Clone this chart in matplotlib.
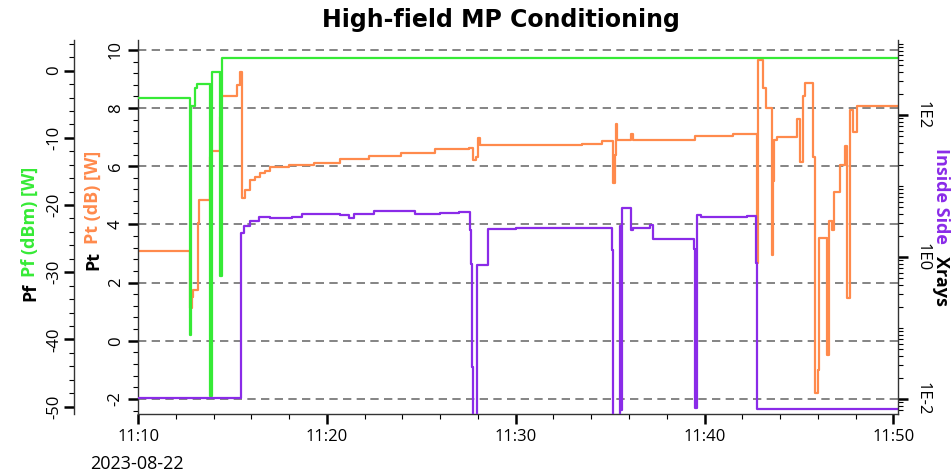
import numpy as np
import pandas as pd
import matplotlib
matplotlib.use("Agg")
import matplotlib.pyplot as plt
import matplotlib.dates as mdates
import matplotlib.ticker as mticker

DAY = "2023-08-22"
TITLE = "High-field MP Conditioning"

# Pf (dBm), outer left axis
pf_times = ["11:09:50", "11:12:45", "11:12:48", "11:13:01", "11:13:07", "11:13:49",
            "11:13:56", "11:14:20", "11:14:28", "11:50:20"]
pf_values = [-4.0, -39.3, -5.3, -2.6, -2.0, -48.4, -0.25, -30.6, 1.9, 1.9]

# Pt (dB), inner left axis
pt_times = ["11:09:50", "11:12:45", "11:12:50", "11:12:55", "11:13:10", "11:13:14",
            "11:13:49", "11:13:53", "11:14:20", "11:14:24", "11:15:14", "11:15:24",
            "11:15:29", "11:15:40", "11:15:56", "11:16:12", "11:16:28", "11:16:44",
            "11:17:00", "11:18:00", "11:19:20", "11:20:40", "11:22:15", "11:23:55",
            "11:25:45", "11:27:30", "11:27:45", "11:27:55", "11:28:00", "11:28:05",
            "11:33:30", "11:34:34", "11:35:10", "11:35:14", "11:35:18", "11:35:22",
            "11:36:07", "11:36:12", "11:39:30", "11:41:30", "11:42:46", "11:42:50",
            "11:43:06", "11:43:15", "11:43:33", "11:43:38", "11:43:42", "11:43:51",
            "11:44:53", "11:45:04", "11:45:12", "11:45:20", "11:45:44", "11:45:52",
            "11:46:01", "11:46:04", "11:46:29", "11:46:37", "11:46:45", "11:46:52",
            "11:47:11", "11:47:27", "11:47:34", "11:47:43", "11:47:51", "11:48:06",
            "11:50:20"]
pt_values = [3.09, 1.12, 1.5, 1.75, 4.06, 4.84,
             6.33, 6.53, 7.7, 8.4, 8.8, 9.25,
             4.9, 5.19, 5.53, 5.64, 5.77, 5.85,
             5.99, 6.05, 6.1, 6.24, 6.36, 6.47,
             6.6, 6.62, 6.2, 6.3, 6.96, 6.73,
             6.77, 6.85, 5.42, 6.4, 7.44, 6.9,
             7.1, 6.9, 7.04, 7.1, 2.67, 9.66,
             8.68, 8.0, 2.95, 5.5, 6.9, 7.02,
             7.62, 6.16, 8.4, 8.85, 6.33, -1.8,
             -1.0, 3.52, -0.49, 4.1, 3.81, 5.13,
             6.05, 6.7, 1.46, 7.94, 7.19, 8.07,
             8.07]

# Xrays inside side, right log axis
xr_times = ["11:09:50", "11:15:28", "11:15:35", "11:15:55", "11:16:25", "11:17:00",
            "11:18:10", "11:18:40", "11:20:40", "11:21:10", "11:21:25", "11:22:30",
            "11:23:50", "11:24:40", "11:26:00", "11:27:00", "11:27:36", "11:27:38",
            "11:27:41", "11:27:43", "11:27:58", "11:28:33", "11:30:00", "11:32:00",
            "11:35:05", "11:35:08", "11:35:30", "11:35:34", "11:35:39", "11:36:07",
            "11:36:14", "11:37:07", "11:37:16", "11:39:28", "11:39:30", "11:39:35",
            "11:39:48", "11:42:14", "11:42:43", "11:42:46", "11:50:20"]
xr_values = [0.0102, 2.2, 2.7, 3.2, 3.7, 3.5,
             3.7, 4.1, 3.9, 3.5, 4.1, 4.4,
             4.5, 4.1, 4.2, 4.3, 2.4, 0.8,
             0.028, 0.001, 0.78, 2.5, 2.6, 2.55,
             1.26, 0.001, 2.7, 0.007, 4.9, 2.4,
             2.6, 2.8, 1.8, 1.3, 0.0074, 3.9,
             3.7, 3.8, 0.83, 0.0072, 0.0072]

GREEN = "#36ea36"
ORANGE = "#ff8a4c"
PURPLE = "#8a2be8"


def to_dt(times):
    return pd.to_datetime([f"{DAY} {t}" for t in times])


plt.rcParams["font.family"] = ["Open Sans", "DejaVu Sans"]
plt.rcParams["axes.unicode_minus"] = False

fig = plt.figure(figsize=(9.53, 4.75), dpi=100)
ax = fig.add_axes([0.1443, 0.1284, 0.7980, 0.7874])
ax_pf = ax.twinx()
ax_xr = ax.twinx()

# Pt axis (inner left) with dashed grid
ax.plot(to_dt(pt_times), pt_values, drawstyle="steps-post", color=ORANGE, lw=1.6)
ax.set_ylim(-2.52, 10.34)
ax.yaxis.set_major_locator(mticker.MultipleLocator(2))
ax.yaxis.set_minor_locator(mticker.MultipleLocator(0.4))
ax.grid(axis="y", which="major", color="#707070", lw=1.2, linestyle=(0, (5, 3.2)))
ax.spines["top"].set_visible(False)
ax.spines["right"].set_visible(False)

# Pf axis (outer left)
ax_pf.plot(to_dt(pf_times), pf_values, drawstyle="steps-post", color=GREEN, lw=1.6)
ax_pf.set_ylim(-51.1, 4.56)
ax_pf.yaxis.set_label_position("left")
ax_pf.yaxis.tick_left()
ax_pf.spines["left"].set_position(("outward", 46))
for s in ["top", "right", "bottom"]:
    ax_pf.spines[s].set_visible(False)
ax_pf.yaxis.set_major_locator(mticker.MultipleLocator(10))
ax_pf.yaxis.set_minor_locator(mticker.MultipleLocator(2))

# Xrays axis (right, log)
ax_xr.plot(to_dt(xr_times), xr_values, drawstyle="steps-post", color=PURPLE, lw=1.6)
ax_xr.set_yscale("log")
ax_xr.set_ylim(10 ** -2.21, 10 ** 3.056)
ax_xr.yaxis.set_major_locator(mticker.FixedLocator([1e-2, 1e0, 1e2]))
ax_xr.yaxis.set_minor_locator(mticker.LogLocator(base=10, subs=np.arange(1, 10), numticks=20))
ax_xr.yaxis.set_major_formatter(
    mticker.FuncFormatter(lambda v, p: f"1E{int(round(np.log10(v)))}"))
ax_xr.yaxis.set_minor_formatter(mticker.NullFormatter())
for s in ["top", "left", "bottom"]:
    ax_xr.spines[s].set_visible(False)

# x axis
ax.set_xlim(pd.Timestamp(f"{DAY} 11:09:58"), pd.Timestamp(f"{DAY} 11:50:15"))
ax.xaxis.set_major_locator(mdates.MinuteLocator(byminute=range(0, 60, 10)))
ax.xaxis.set_minor_locator(mdates.MinuteLocator(byminute=range(0, 60, 2)))
ax.xaxis.set_major_formatter(mdates.DateFormatter("%H:%M"))

for a in (ax, ax_pf, ax_xr):
    for s in a.spines.values():
        s.set_color("#333333")
        s.set_linewidth(1.0)
    a.tick_params(which="major", length=7, width=1.8, labelsize=12, direction="out")
    a.tick_params(which="minor", length=3.5, width=0.8, direction="out")

ax.tick_params(axis="x", pad=4)
ax.tick_params(axis="y", labelrotation=90, pad=3)
ax_pf.tick_params(axis="y", labelrotation=90, pad=1)
ax_xr.tick_params(axis="y", labelrotation=-90, pad=5)
for lab in ax.get_yticklabels() + ax_pf.get_yticklabels():
    lab.set_va("center")
for lab in ax_xr.get_yticklabels():
    lab.set_va("center")

# axis titles built from coloured pieces
def px(x, y):
    return x / 953, 1 - y / 475

lab_kw = dict(fontsize=13, fontweight="bold", rotation_mode="anchor", va="center")
fig.text(*px(30, 301), "Pf", color="black", rotation=90, ha="left", **lab_kw)
fig.text(*px(30, 277), "Pf (dBm) [W]", color=GREEN, rotation=90, ha="left", **lab_kw)
fig.text(*px(93, 270), "Pt", color="black", rotation=90, ha="left", **lab_kw)
fig.text(*px(93, 244), "Pt (dB) [W]", color=ORANGE, rotation=90, ha="left", **lab_kw)
fig.text(*px(941, 148), "Inside Side", color=PURPLE, rotation=-90, ha="left", **lab_kw)
fig.text(*px(941, 256), "Xrays", color="black", rotation=-90, ha="left", **lab_kw)

fig.text(*px(501, 20), TITLE, ha="center", va="center", fontsize=17,
         fontweight="bold", family="DejaVu Sans")
fig.text(*px(90, 464), DAY, ha="left", va="center", fontsize=13)

fig.savefig("out.png", dpi=100)
